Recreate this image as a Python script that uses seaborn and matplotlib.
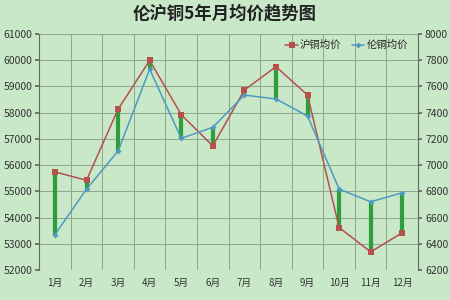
import matplotlib
matplotlib.use("Agg")
import matplotlib.pyplot as plt
import seaborn as sns
import pandas as pd
import numpy as np
from matplotlib.lines import Line2D

months = ["1月", "2月", "3月", "4月", "5月", "6月", "7月", "8月", "9月", "10月", "11月", "12月"]
shfe = [55740, 55420, 58130, 59990, 57920, 56730, 58860, 59750, 58670, 53620, 52690, 53420]
lme = [6470, 6817, 7107, 7731, 7204, 7288, 7534, 7504, 7374, 6817, 6720, 6789]
left_ticks = [52000, 53000, 54000, 55000, 56000, 57000, 58000, 59000, 60000, 61000]
right_ticks = [6200, 6400, 6600, 6800, 7000, 7200, 7400, 7600, 7800, 8000]

sns.set_theme(style="white")
plt.rcParams['font.family'] = ['Noto Sans CJK SC', 'DejaVu Sans']

bg = "#c8e8c8"
fig = plt.figure(figsize=(4.5, 3), dpi=100, facecolor=bg)
ax = fig.add_axes([0.087, 0.1, 0.842, 0.787])
ax.set_facecolor(bg)
ax2 = ax.twinx()

x = np.arange(len(months)) + 0.5
df = pd.DataFrame({"x": x, "shfe": shfe, "lme": lme})

ax.set_xlim(0, 12)
ax.set_ylim(52000, 61000)
ax2.set_ylim(6200, 8000)

# grid
grid_c = "#8da58d"
for xv in range(1, 12):
    ax.axvline(xv, color=grid_c, lw=0.7, zorder=0)
for yv in left_ticks[1:]:
    ax.axhline(yv, color=grid_c, lw=0.7, zorder=0)

# high-low connectors (LME converted to left scale)
lme_left = [52000 + (v - 6200) * 5 for v in lme]
ax.vlines(x, shfe, lme_left, color="#2f9e3a", lw=3, zorder=2)

red = "#b5504c"
blue = "#4d9bc0"
sns.lineplot(data=df, x="x", y="shfe", ax=ax, color=red, lw=1.1, marker="s",
             markersize=4.5, markeredgewidth=0, zorder=3, legend=False)
sns.lineplot(data=df, x="x", y="lme", ax=ax2, color=blue, lw=1.1, marker="D",
             markersize=3, markeredgewidth=0, zorder=3, legend=False)

ax.set_xticks(x)
ax.set_xticklabels(months, fontsize=7, color="#333333")
ax.set_yticks(left_ticks)
ax.set_yticklabels([str(v) for v in left_ticks], fontsize=7.5, color="#333333")
ax2.set_yticks(right_ticks)
ax2.set_yticklabels([str(v) for v in right_ticks], fontsize=7.5, color="#333333")
ax.set_xlabel("")
ax.set_ylabel("")
ax2.set_ylabel("")
ax.tick_params(axis="x", length=0, pad=6)
ax.tick_params(axis="y", length=3, color="#666666", pad=2, left=True)
ax2.tick_params(axis="y", length=3, color="#666666", pad=2, right=True)

for a in (ax, ax2):
    for s in a.spines.values():
        s.set_visible(False)
ax.spines["left"].set_visible(True)
ax.spines["left"].set_color("#666666")
ax.spines["left"].set_linewidth(0.8)
ax2.spines["right"].set_visible(True)
ax2.spines["right"].set_color("#666666")
ax2.spines["right"].set_linewidth(0.8)

handles = [Line2D([], [], color=red, marker="s", markersize=4, lw=1.1, markeredgewidth=0),
           Line2D([], [], color=blue, marker="D", markersize=3, lw=1.1, markeredgewidth=0)]
ax.legend(handles, ["沪铜均价", "伦铜均价"], loc="upper right", bbox_to_anchor=(0.99, 1.0),
          ncol=2, frameon=False, fontsize=7.5, handlelength=1.2, handletextpad=0.2,
          columnspacing=1.0, borderaxespad=0.2)

fig.suptitle("伦沪铜5年月均价趋势图", fontsize=12.5, fontweight="bold", y=0.985, color="#222222")

fig.savefig("out.png", dpi=100, facecolor=bg)
